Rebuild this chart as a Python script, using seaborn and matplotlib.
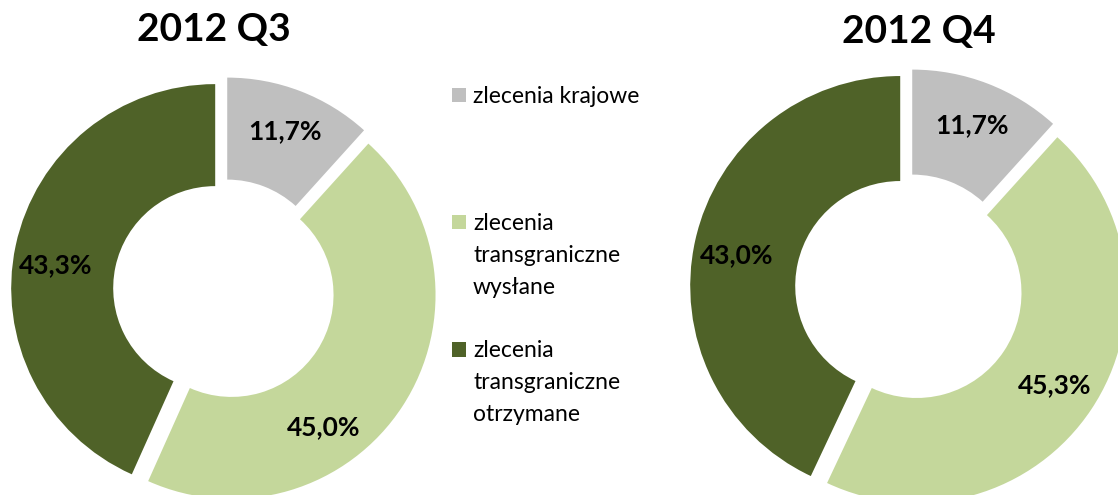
import matplotlib
matplotlib.use('Agg')
import numpy as np
import matplotlib.pyplot as plt
from matplotlib.patches import Patch
import seaborn as sns

## Data
categories = ['zlecenia krajowe',
              'zlecenia\ntransgraniczne\nwysłane',
              'zlecenia\ntransgraniczne\notrzymane']
q3_values = [11.7, 45.0, 43.3]
q4_values = [11.7, 45.3, 43.0]
titles = ['2012 Q3', '2012 Q4']

sns.set_style('white')
plt.rcParams['font.family'] = ['Lato', 'DejaVu Sans']
plt.rcParams['text.color'] = 'black'
colors = sns.color_palette(['#BFBFBF', '#C4D79B', '#4F6228'])

W, H = 1118, 495
fig = plt.figure(figsize=(W / 100, H / 100), dpi=100)
ax = fig.add_axes([0, 0, 1, 1])

def pct_fmt(p):
    return f'{p:.1f}%'.replace('.', ',')

## Donuts (label angle nudges in degrees, like Excel's label placement)
donuts = [(q3_values, (224, H - 290), 204, titles[0], (214, H - 29), [0, -22, 4]),
          (q4_values, (909, H - 288), 210, titles[1], (919, H - 32), [0, 0, 2])]

for vals, center, r, title, tpos, nudge in donuts:
    wedges, texts, autotexts = ax.pie(
        vals, colors=colors, startangle=90, counterclock=False,
        radius=r, center=center, explode=[9, 9, 9],
        wedgeprops=dict(width=r * 0.5, edgecolor='none'),
        autopct=pct_fmt, pctdistance=0.79,
        textprops=dict(fontsize=19, fontweight='bold', color='black'))
    for w, t, dn in zip(wedges, autotexts, nudge):
        ang = np.deg2rad((w.theta1 + w.theta2) / 2 + dn)
        cx, cy = w.center
        t.set_position((cx + 0.79 * r * np.cos(ang), cy + 0.79 * r * np.sin(ang)))
    ax.text(tpos[0], tpos[1], title, ha='center', va='center',
            fontsize=28, fontweight='bold', color='black')

ax.set_xlim(0, W)
ax.set_ylim(0, H)
ax.set_aspect('equal')
ax.axis('off')

## Legend: one row per text line, marker on first line
handles, labels = [], []
for i, (cat, col) in enumerate(zip(categories, colors)):
    lines = cat.split('\n')
    for j, line in enumerate(lines):
        handles.append(Patch(facecolor=col if j == 0 else 'none', edgecolor='none'))
        labels.append(line)
    if i < len(categories) - 1:
        pad = 4 - len(lines) if i == 0 else 1
        for _ in range(pad):
            handles.append(Patch(facecolor='none', edgecolor='none'))
            labels.append(' ')

fig.legend(handles, labels, loc='upper left', bbox_to_anchor=(452 / W, 1 - 86 / H),
           frameon=False, fontsize=16.5, handlelength=0.62, handleheight=0.62,
           handletextpad=0.3, labelspacing=0.47, borderpad=0, borderaxespad=0)

fig.savefig('out.png', dpi=100)
